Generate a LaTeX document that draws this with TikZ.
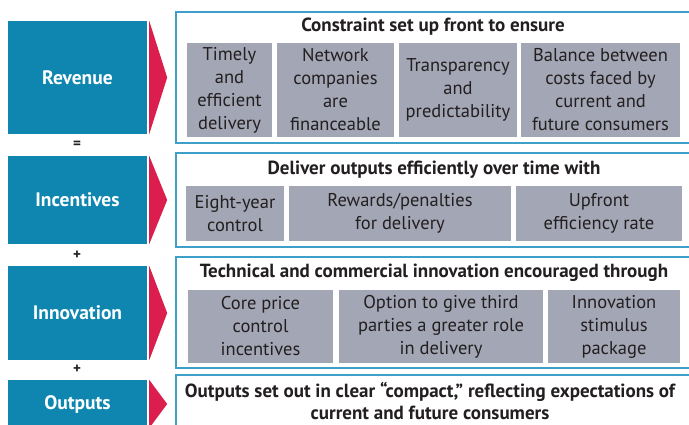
\documentclass[tikz,border=0pt]{standalone}
\usepackage{fontspec}
\setmainfont{PT Sans}
\usepackage{tikz}
\usepackage{xcolor}

\definecolor{pillarblue}{RGB}{14,134,176}
\definecolor{arrowred}{RGB}{220,30,78}
\definecolor{frameblue}{RGB}{62,160,200}
\definecolor{itemgray}{RGB}{163,166,180}
\definecolor{inkgray}{RGB}{35,31,32}

\begin{document}
\begin{tikzpicture}[x=1pt, y=-1pt,
  pillar/.style={fill=pillarblue, text=white, inner sep=0pt, minimum width=139pt,
    font=\bfseries\fontsize{19.5}{20}\selectfont},
  chevron/.style={fill=arrowred},
  panel/.style={draw=frameblue, line width=1.3pt, fill=white, inner sep=0pt, minimum width=514pt},
  item/.style={fill=itemgray, text=inkgray, align=center, inner sep=0pt,
    font=\fontsize{18.5}{23}\selectfont},
  heading/.style={text=inkgray, align=center, inner sep=0pt,
    font=\bfseries\fontsize{19}{23}\selectfont},
  joiner/.style={text=inkgray, inner sep=0pt, font=\bfseries\fontsize{15}{15}\selectfont}]
  \useasboundingbox (0,0) rectangle (689,424);
  \clip (0,0) rectangle (689,424);
  % Blue pillars on the left
  \node[pillar, minimum height=113pt] (revenue) at (77.5,77.5) {Revenue};
  \node[pillar, minimum height=88pt] (incentives) at (77.5,200) {Incentives};
  \node[pillar, minimum height=94pt] (innovation) at (77.5,313) {Innovation};
  \node[pillar, minimum height=48pt] (outputs) at (77.5,404) {Outputs};
  % Red chevrons
  \foreach \p in {revenue, incentives, innovation, outputs}
    \fill[chevron] ([xshift=2pt]\p.north east) -- ([xshift=20pt]\p.east)
      -- ([xshift=2pt]\p.south east) -- cycle;
  % Signs between the pillars
  \node[joiner] (eq) at (77,145) {=};
  \node[joiner] (plusA) at (77,255) {+};
  \node[joiner] (plusB) at (77,369) {+};
  % Framed panels
  \node[panel, minimum height=131pt] (revpanel) at (433,77.5) {};
  \node[panel, minimum height=94pt] (incpanel) at (433,200) {};
  \node[panel, minimum height=111pt] (innpanel) at (433,312.5) {};
  \node[panel, minimum height=70pt] (outpanel) at (433,410) {};
  % Revenue panel
  \node[heading] (revhead) at (433,27) {Constraint set up front to ensure};
  \node[item, minimum width=85pt, minimum height=94pt] (timely) at (229.5,90)
    {Timely\\and\\efficient\\delivery};
  \node[item, minimum width=117pt, minimum height=94pt] (finance) at (335.5,90)
    {Network\\companies\\are\\financeable};
  \node[item, minimum width=118pt, minimum height=94pt] (transp) at (458,90)
    {Transparency\\and\\predictability};
  \node[item, minimum width=159pt, minimum height=94pt] (balance) at (600.5,90)
    {Balance between\\costs faced by\\current and\\future consumers};
  % Incentives panel
  \node[heading] (inchead) at (434,170) {Deliver outputs efficiently over time with};
  \node[item, minimum width=98pt, minimum height=55pt] (eight) at (235,213.5)
    {Eight-year\\control};
  \node[item, minimum width=222pt, minimum height=55pt] (rewards) at (400,213.5)
    {Rewards/penalties\\for delivery};
  \node[item, minimum width=166pt, minimum height=55pt] (upfront) at (599,213.5)
    {Upfront\\efficiency rate};
  % Innovation panel
  \node[heading] (innhead) at (434,273) {Technical and commercial innovation encouraged through};
  \node[item, minimum width=145pt, minimum height=73pt] (core) at (260.5,326.5)
    {Core price\\control\\incentives};
  \node[item, minimum width=204pt, minimum height=73pt] (option) at (441,326.5)
    {Option to give third\\parties a greater role\\in delivery};
  \node[item, minimum width=132pt, minimum height=73pt] (stimulus) at (614,326.5)
    {Innovation\\stimulus\\package};
  % Outputs panel
  \node[heading, font=\bfseries\fontsize{19}{22}\selectfont] (outhead) at (430,401)
    {Outputs set out in clear “compact,” reflecting expectations of\\current and future consumers};
\end{tikzpicture}
\end{document}
